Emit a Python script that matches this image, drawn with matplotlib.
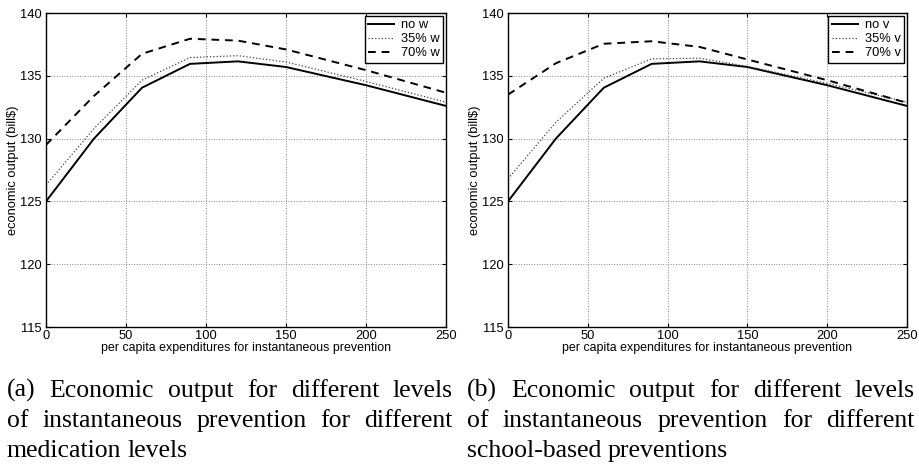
import matplotlib
matplotlib.use("Agg")
import matplotlib.pyplot as plt

# per capita expenditures (x) and economic output (bill$)
spend = [0, 30, 60, 90, 120, 150, 200, 250]
no_w = [125.0, 130.0, 134.05, 135.95, 136.15, 135.7, 134.25, 132.6]
w35 = [126.3, 130.8, 134.65, 136.45, 136.6, 136.1, 134.55, 132.9]
w70 = [129.5, 133.4, 136.75, 137.95, 137.8, 137.1, 135.45, 133.65]
no_v = [125.0, 130.0, 134.05, 135.95, 136.15, 135.7, 134.25, 132.6]
v35 = [126.8, 131.3, 134.8, 136.35, 136.4, 135.75, 134.4, 132.9]
v70 = [133.5, 136.0, 137.55, 137.75, 137.3, 136.3, 134.65, 132.85]

x_ticks = [0, 50, 100, 150, 200, 250]
y_ticks = [115, 120, 125, 130, 135, 140]

caption_a = ["(a) Economic output for different levels",
             "of instantaneous prevention for different",
             "medication levels"]
caption_b = ["(b) Economic output for different levels",
             "of instantaneous prevention for different",
             "school-based preventions"]

W, H = 920, 468
CAP_SIZE = 18.5
plt.rcParams['font.family'] = ['Liberation Sans', 'DejaVu Sans']


def _generate_plot(ax, series, labels):
    styles = [dict(ls='-', lw=1.4, color='black'),
              dict(ls=':', lw=0.9, color='#444444'),
              dict(ls=(0, (4, 3)), lw=1.4, color='black')]
    for values, label, st in zip(series, labels, styles):
        ax.plot(spend, values, label=label, **st)
    ax.set_xlim(0, 250)
    ax.set_ylim(115, 140)
    ax.set_xticks(x_ticks)
    ax.set_yticks(y_ticks)
    ax.grid(True, ls=':', lw=0.7, color='#888888')
    ax.tick_params(direction='in', length=3, labelsize=9.3,
                   top=True, right=True)
    ax.tick_params(axis='x', pad=2)
    ax.tick_params(axis='y', pad=3)
    for sp in ax.spines.values():
        sp.set_linewidth(1.0)
    ax.set_xlabel('per capita expenditures for instantaneous prevention',
                  fontsize=8.9, labelpad=0)
    ax.set_ylabel(r'economic output (bill\$)', fontsize=9.3, labelpad=1)
    leg = ax.legend(loc='upper right', fontsize=9.3, fancybox=False,
                    framealpha=1, edgecolor='black', borderaxespad=0.2,
                    handlelength=2.0, handletextpad=0.5, borderpad=0.3,
                    labelspacing=0.15)
    leg.get_frame().set_linewidth(1.0)


def _justify(fig, lines, x0, x1, baselines):
    renderer = fig.canvas.get_renderer()
    for i, (line, yb) in enumerate(zip(lines, baselines)):
        words = line.split(' ')
        texts = [fig.text(0, 1 - yb / H, w, family='Liberation Serif',
                          fontsize=CAP_SIZE, va='baseline', ha='left')
                 for w in words]
        widths = [t.get_window_extent(renderer).width for t in texts]
        last = i == len(lines) - 1
        if last or len(words) == 1:
            gap = renderer.points_to_pixels(CAP_SIZE) * 0.25
        else:
            gap = (x1 - x0 - sum(widths)) / (len(words) - 1)
        x = x0
        for t, w in zip(texts, widths):
            t.set_x(x / W)
            x += w + gap


fig = plt.figure(figsize=(W / 100, H / 100), dpi=100)
ax_a = fig.add_axes([46 / W, 1 - 327 / H, 400 / W, 314 / H])
ax_b = fig.add_axes([508 / W, 1 - 327 / H, 399 / W, 314 / H])

_generate_plot(ax_a, [no_w, w35, w70], ['no w', '35% w', '70% w'])
_generate_plot(ax_b, [no_v, v35, v70], ['no v', '35% v', '70% v'])

fig.canvas.draw()
_justify(fig, caption_a, 7, 453, [397, 427, 457])
_justify(fig, caption_b, 467, 915, [397, 427, 457])

fig.savefig('out.png', dpi=100)
